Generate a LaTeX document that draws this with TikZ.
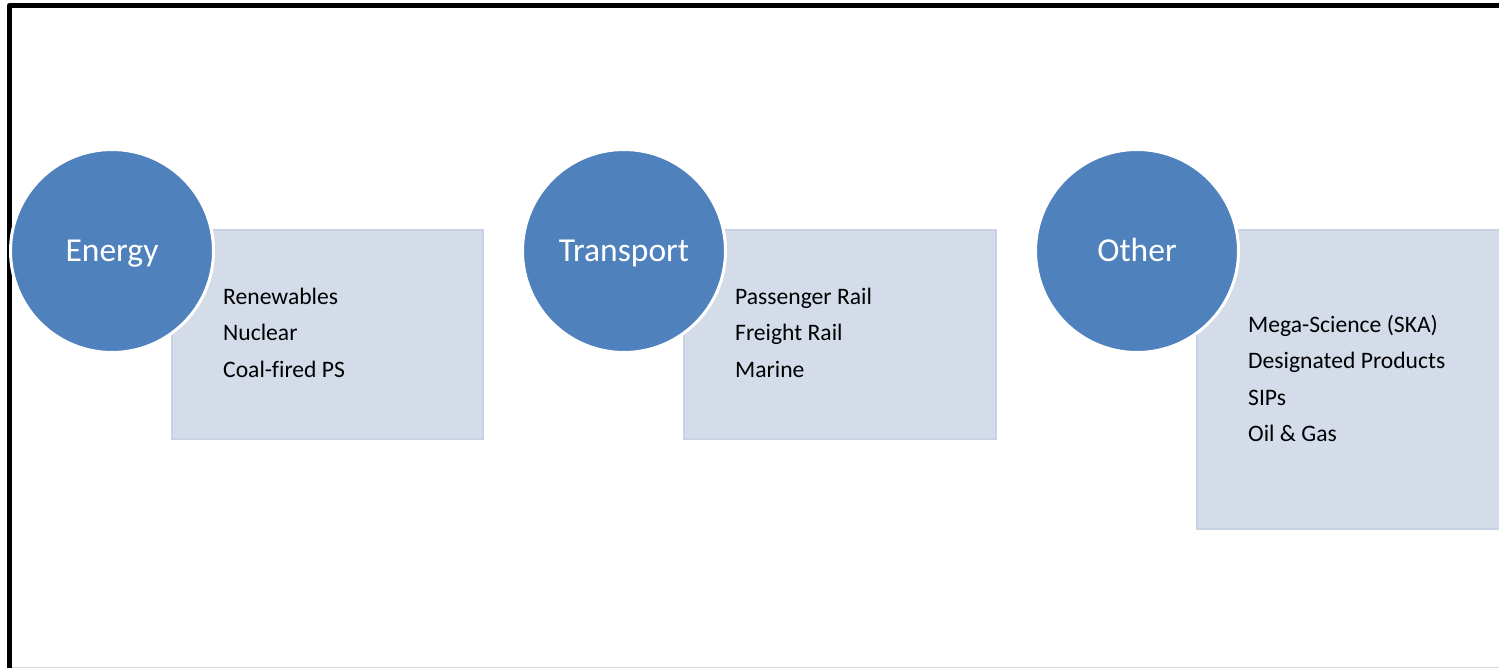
\documentclass[tikz,border=0pt]{standalone}
\usepackage{fontspec}
\setmainfont[Ligatures=NoCommon]{Carlito}
\definecolor{circblue}{HTML}{4F81BD}
\definecolor{boxfill}{HTML}{D4DCEA}
\definecolor{boxedge}{HTML}{C9D2E5}
\begin{document}
\begin{tikzpicture}[x=1pt,y=-1pt,
  catbox/.style={draw=boxedge,line width=2pt,fill=boxfill,rectangle,anchor=north west,inner sep=0pt},
  catcirc/.style={circle,fill=circblue,draw=white,line width=3pt,minimum size=203pt,inner sep=0pt,
    text=white,text height=21pt,text depth=0pt,font=\fontsize{33.5}{40}\selectfont},
  item/.style={anchor=base west,inner sep=0pt,font=\fontsize{23.6}{28}\selectfont,text=black}]
\useasboundingbox (0,0) rectangle (1499,668);
\fill[white] (0,0) rectangle (1499,668);
% frame
\draw[line width=1pt,black!15] (10,667.5) -- (1499,667.5);
\draw[line width=5pt,line join=round] (9.5,668) -- (9.5,5.5) -- (1500,5.5);
% boxes
\node[catbox,minimum width=311pt,minimum height=209pt] (ebox) at (171,229) {};
\node[catbox,minimum width=312pt,minimum height=209pt] (tbox) at (683,229) {};
\node[catbox,minimum width=310pt,minimum height=299pt] (obox) at (1196,229) {};
% circles
\node[catcirc] (energy) at (112,251) {Energy};
\node[catcirc] (transport) at (624,251) {Transport};
\node[catcirc] (other) at (1137,251) {Other};
% items
\node[item] (e1) at (223,305) {Renewables};
\node[item] (e2) at (223,341) {Nuclear};
\node[item] (e3) at (223,377) {Coal-fired PS};
\node[item] (t1) at (735,305) {Passenger Rail};
\node[item] (t2) at (735,341) {Freight Rail};
\node[item] (t3) at (735,377) {Marine};
\node[item] (o1) at (1248,332) {Mega-Science (SKA)};
\node[item] (o2) at (1248,368) {Designated Products};
\node[item] (o3) at (1248,405) {SIPs};
\node[item] (o4) at (1248,441) {Oil \& Gas};
\end{tikzpicture}
\end{document}
